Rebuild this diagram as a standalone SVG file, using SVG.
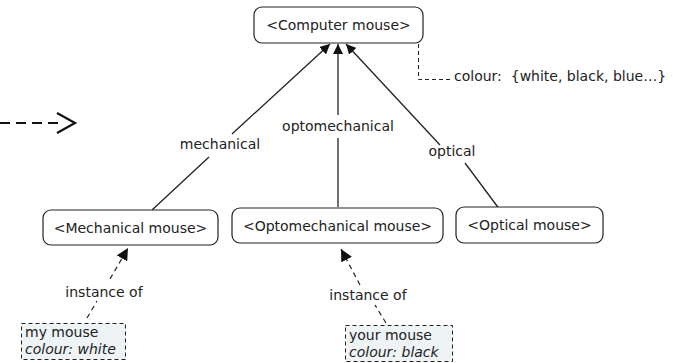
<svg xmlns="http://www.w3.org/2000/svg" width="679" height="363" viewBox="0 0 679 363">
<style>
text{font-family:"DejaVu Sans",Verdana,sans-serif;font-size:14px;fill:#222}
.node{fill:#fff;stroke:#222;stroke-width:1.2}
.inst{fill:#eef3f5;stroke:#222;stroke-width:1;stroke-dasharray:4 3}
.edge{fill:none;stroke:#222;stroke-width:1.3}
.dash{fill:none;stroke:#222;stroke-width:1.2;stroke-dasharray:5 4}
.big{fill:none;stroke:#111;stroke-width:2.2}
.lbl{text-anchor:middle}
.it{font-style:italic}
</style>
<defs>
<marker id="ah" viewBox="0 0 10 10" refX="10" refY="5" markerWidth="10" markerHeight="10" markerUnits="userSpaceOnUse" orient="auto">
<path d="M0,0 L10,5 L0,10 Z" fill="#111"/>
</marker>
<marker id="ah2" viewBox="0 0 12 12" refX="12" refY="6" markerWidth="12" markerHeight="12" markerUnits="userSpaceOnUse" orient="auto">
<path d="M0,0 L12,6 L0,12 Z" fill="#111"/>
</marker>
</defs>
<g id="connectors">
<path class="big" d="M0,123 H64" style="stroke-dasharray:10 6"/>
<path class="big" d="M57,113 L75,123 L57,133"/>
<path class="edge" d="M152,210 L209,157"/>
<path class="edge" d="M232,134 L330,44" marker-end="url(#ah)"/>
<path class="edge" d="M338,207 V138"/>
<path class="edge" d="M338,115 V44" marker-end="url(#ah)"/>
<path class="edge" d="M500,210 L465,163"/>
<path class="edge" d="M440,145 L346,44" marker-end="url(#ah)"/>
<path class="dash" d="M418.5,44 V79.5 H450" style="stroke-dasharray:4 3;stroke-width:1"/>
<path class="dash" d="M87,318 L97,301"/>
<path class="dash" d="M110,279 L128,248" marker-end="url(#ah2)"/>
<path class="dash" d="M386,323 L375,305"/>
<path class="dash" d="M360,285 L341,249" marker-end="url(#ah2)"/>
<text class="lbl" x="220" y="149">mechanical</text>
<text class="lbl" x="338" y="131">optomechanical</text>
<text class="lbl" x="452" y="156">optical</text>
<text class="lbl" x="104" y="297">instance of</text>
<text class="lbl" x="368" y="300">instance of</text>
<text x="454" y="81" xml:space="preserve">colour:  {white, black, blue…}</text>
</g>
<g id="computer-mouse">
<rect class="node" x="254" y="7" width="169" height="36" rx="8"/>
<text class="lbl" x="338.5" y="30">&lt;Computer mouse&gt;</text>
</g>
<g id="mechanical-mouse">
<rect class="node" x="43" y="210" width="175" height="35" rx="8"/>
<text class="lbl" x="130.5" y="233">&lt;Mechanical mouse&gt;</text>
</g>
<g id="optomechanical-mouse">
<rect class="node" x="232" y="208" width="211" height="35" rx="8"/>
<text class="lbl" x="337.5" y="231">&lt;Optomechanical mouse&gt;</text>
</g>
<g id="optical-mouse">
<rect class="node" x="456" y="207" width="147" height="36" rx="8"/>
<text class="lbl" x="529.5" y="230">&lt;Optical mouse&gt;</text>
</g>
<g id="my-mouse">
<rect class="inst" x="21.5" y="323.5" width="104" height="36"/>
<text x="25" y="337">my mouse</text>
<text class="it" x="25" y="354">colour: white</text>
</g>
<g id="your-mouse">
<rect class="inst" x="345.5" y="325.5" width="107" height="36"/>
<text x="349" y="340">your mouse</text>
<text class="it" x="349" y="357">colour: black</text>
</g>
</svg>
